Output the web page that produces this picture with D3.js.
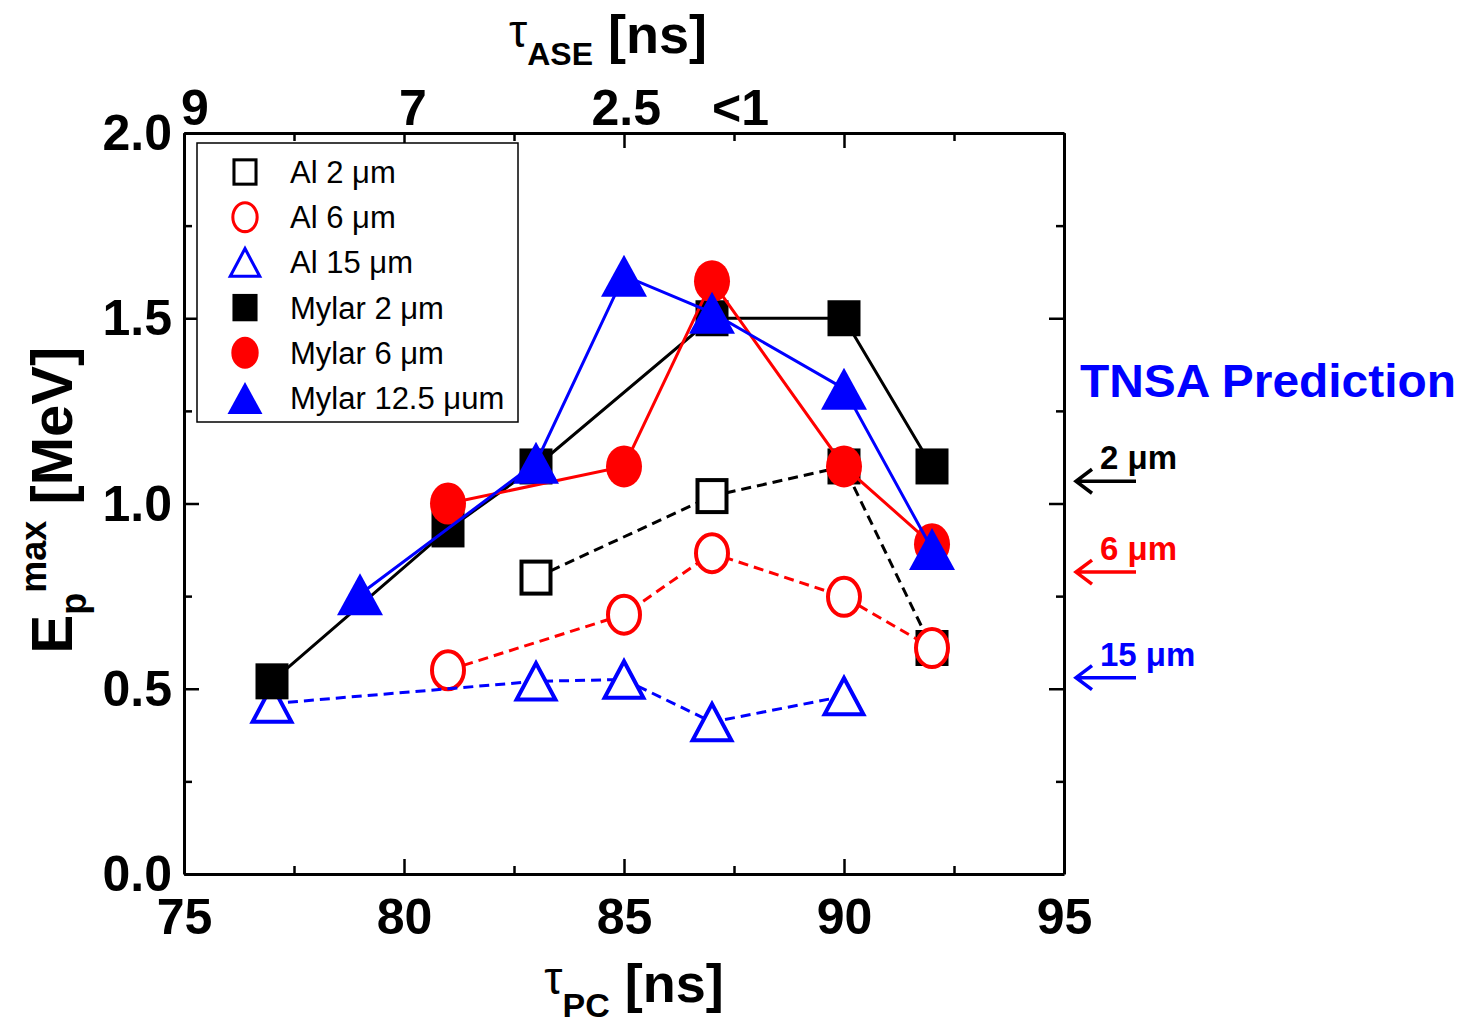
<!DOCTYPE html>
<html>
<head>
<meta charset="utf-8">
<script src="https://cdn.jsdelivr.net/npm/d3@7"></script>
<style>
  body { margin: 0; background: #fff; }
  svg { font-family: "Liberation Sans", Arial, sans-serif; }
</style>
</head>
<body>
<div id="c1"></div>
<script>
// data
var al2x = [83, 87, 90, 92];
var al2y = [0.80, 1.02, 1.10, 0.61];
var al6x = [81, 85, 87, 90, 92];
var al6y = [0.55, 0.70, 0.866, 0.748, 0.61];
var al15x = [77, 83, 85, 87, 90];
var al15y = [0.46, 0.52, 0.525, 0.41, 0.48];
var my2x = [77, 81, 83, 87, 90, 92];
var my2y = [0.52, 0.93, 1.10, 1.50, 1.50, 1.10];
var my6x = [81, 85, 87, 90, 92];
var my6y = [1.00, 1.10, 1.60, 1.10, 0.89];
var my12x = [79, 83, 85, 87, 90, 92];
var my12y = [0.755, 1.11, 1.615, 1.515, 1.31, 0.877];

var legendNames = ["Al 2 \u03bcm", "Al 6 \u03bcm", "Al 15 \u03bcm", "Mylar 2 \u03bcm", "Mylar 6 \u03bcm", "Mylar 12.5 \u03bcum"];
var xTicks = [75, 80, 85, 90, 95];
var xMinor = [77.5, 82.5, 87.5, 92.5];
var yTicks = [0, 0.5, 1.0, 1.5, 2.0];
var yMinor = [0.25, 0.75, 1.25, 1.75];
var topLabelPos = [75.25, 80.2, 85.05, 87.65];
var topLabels = ["9", "7", "2.5", "<1"];
var tnsaNames = ["2 \u03bcm", "6 \u03bcm", "15 \u03bcm"];
var tnsaVals = [1.06, 0.815, 0.53];

var w = 1465, h = 1028;
var x = d3.scaleLinear().domain([75, 95]).range([184, 1064]);
var y = d3.scaleLinear().domain([0, 2]).range([874, 133]);

var svg = d3.select("#c1").append("svg").attr("width", w).attr("height", h);

function pts(xs, ys) { return xs.map(function (v, i) { return {x: v, y: ys[i]}; }); }

// series style: shape, colour, filled, dashed
var series = [
  {d: pts(al2x, al2y), shape: "square", col: "#000", fill: false, dash: true, solidIdx: [2, 3]},
  {d: pts(al6x, al6y), shape: "circle", col: "#f00", fill: false, dash: true},
  {d: pts(al15x, al15y), shape: "triangle", col: "#00f", fill: false, dash: true},
  {d: pts(my2x, my2y), shape: "square", col: "#000", fill: true, dash: false},
  {d: pts(my6x, my6y), shape: "circle", col: "#f00", fill: true, dash: false},
  {d: pts(my12x, my12y), shape: "triangle", col: "#00f", fill: true, dash: false}
];

function marker(g, shape, col, filled, s) {
  // s = scale; open markers keep same outer size
  var sw = 4 * s;
  if (shape == "square") {
    var W = 33 * s, H = 36 * s;
    if (filled) g.append("rect").attr("x", -W / 2).attr("y", -H / 2).attr("width", W).attr("height", H).attr("fill", col);
    else g.append("rect").attr("x", -W / 2 + sw / 2).attr("y", -H / 2 + sw / 2).attr("width", W - sw).attr("height", H - sw)
      .attr("fill", "#fff").attr("stroke", col).attr("stroke-width", sw);
  } else if (shape == "circle") {
    var rx = 18 * s, ry = 21 * s;
    if (filled) g.append("ellipse").attr("rx", rx).attr("ry", ry).attr("fill", col);
    else g.append("ellipse").attr("rx", rx - sw / 2).attr("ry", ry - sw / 2)
      .attr("fill", "#fff").attr("stroke", col).attr("stroke-width", sw);
  } else {
    var tw = 23 * s, th = 21 * s;
    if (filled) g.append("path").attr("d", "M0," + (-th) + "L" + tw + "," + th + "L" + (-tw) + "," + th + "Z").attr("fill", col);
    else {
      var a = tw - sw * 0.9, b = th - sw * 0.7;
      g.append("path").attr("d", "M0," + (-b) + "L" + a + "," + b + "L" + (-a) + "," + b + "Z")
        .attr("fill", "#fff").attr("stroke", col).attr("stroke-width", sw).attr("stroke-linejoin", "miter");
    }
  }
}

var line = d3.line().x(function (d) { return x(d.x); }).y(function (d) { return y(d.y); });

series.forEach(function (s) {
  var g = svg.append("g");
  g.append("path").attr("d", line(s.d)).attr("fill", "none").attr("stroke", s.col)
    .attr("stroke-width", 3).attr("stroke-dasharray", s.dash ? "10,6" : null);
  s.d.forEach(function (p, i) {
    var m = g.append("g").attr("transform", "translate(" + x(p.x) + "," + y(p.y) + ")");
    var filled = s.fill || (s.solidIdx && s.solidIdx.indexOf(i) >= 0 && s.shape == "square");
    marker(m, s.shape, s.col, filled, 1);
  });
});

// axes
function styleAxis(g) {
  g.select(".domain").attr("stroke-width", 3);
  g.selectAll(".tick line").attr("stroke-width", 2.5);
  g.selectAll("text").attr("font-size", 50).attr("font-weight", "bold").attr("font-family", "Liberation Sans, Arial, sans-serif").attr("fill", "#000");
}
function minor(g) { g.select(".domain").remove(); g.selectAll("line").attr("stroke-width", 2.5); }

var gb = svg.append("g").attr("transform", "translate(0,874)")
  .call(d3.axisBottom(x).tickValues(xTicks).tickSizeInner(-15).tickSizeOuter(0).tickPadding(24).tickFormat(d3.format("d")));
styleAxis(gb);
svg.append("g").attr("transform", "translate(0,874)")
  .call(d3.axisBottom(x).tickValues(xMinor).tickSizeInner(-8).tickSizeOuter(0).tickFormat("")).call(minor);

var gt = svg.append("g").attr("transform", "translate(0,133)")
  .call(d3.axisTop(x).tickValues(xTicks).tickSizeInner(-15).tickSizeOuter(0).tickFormat(""));
styleAxis(gt);
svg.append("g").attr("transform", "translate(0,133)")
  .call(d3.axisTop(x).tickValues(xMinor).tickSizeInner(-8).tickSizeOuter(0).tickFormat("")).call(minor);

var gl = svg.append("g").attr("transform", "translate(184,0)")
  .call(d3.axisLeft(y).tickValues(yTicks).tickSizeInner(-15).tickSizeOuter(0).tickPadding(12).tickFormat(d3.format(".1f")));
styleAxis(gl);
gl.selectAll("text").attr("dy", "0.33em");
svg.append("g").attr("transform", "translate(184,0)")
  .call(d3.axisLeft(y).tickValues(yMinor).tickSizeInner(-8).tickSizeOuter(0).tickFormat("")).call(minor);

var gr = svg.append("g").attr("transform", "translate(1064,0)")
  .call(d3.axisRight(y).tickValues(yTicks).tickSizeInner(-15).tickSizeOuter(0).tickFormat(""));
styleAxis(gr);
svg.append("g").attr("transform", "translate(1064,0)")
  .call(d3.axisRight(y).tickValues(yMinor).tickSizeInner(-8).tickSizeOuter(0).tickFormat("")).call(minor);

// top labels (tau_ASE)
svg.selectAll("text.toplab").data(topLabels).enter().append("text")
  .attr("class", "toplab")
  .attr("x", function (d, i) { return x(topLabelPos[i]); })
  .attr("y", 125).attr("text-anchor", "middle")
  .attr("font-size", 50).attr("font-weight", "bold").text(function (d) { return d; });

// axis titles
var tb = svg.append("text").attr("x", 634).attr("y", 1002).attr("text-anchor", "middle");
tb.append("tspan").attr("font-size", 46).attr("dy", -8).text("\u03c4");
tb.append("tspan").attr("font-size", 34).attr("font-weight", "bold").attr("dy", 23).text("PC");
tb.append("tspan").attr("font-size", 54).attr("font-weight", "bold").attr("dy", -15).text(" [ns]");

var tt = svg.append("text").attr("x", 608).attr("y", 53).attr("text-anchor", "middle");
tt.append("tspan").attr("font-size", 46).attr("dy", -6).text("\u03c4");
tt.append("tspan").attr("font-size", 32).attr("font-weight", "bold").attr("dy", 18).text("ASE");
tt.append("tspan").attr("font-size", 54).attr("font-weight", "bold").attr("dy", -12).text(" [ns]");

var ty = svg.append("text").attr("transform", "translate(72,500) rotate(-90)").attr("text-anchor", "middle").attr("font-weight", "bold");
ty.append("tspan").attr("font-size", 58).text("E");
ty.append("tspan").attr("font-size", 36).attr("dy", 14).text("p");
ty.append("tspan").attr("font-size", 36).attr("dy", -40).text("max");
ty.append("tspan").attr("font-size", 58).attr("dy", 26).text(" [MeV]");

// legend
var lg = svg.append("g");
lg.append("rect").attr("x", 197).attr("y", 143).attr("width", 321).attr("height", 279)
  .attr("fill", "#fff").attr("stroke", "#000").attr("stroke-width", 1.5);
series.forEach(function (s, i) {
  var cy = 172 + i * 45.2;
  var m = lg.append("g").attr("transform", "translate(245," + cy + ")");
  marker(m, s.shape, s.col, s.fill, 0.76);
  lg.append("text").attr("x", 290).attr("y", cy + 11).attr("font-size", 31).text(legendNames[i]);
});

// TNSA prediction arrows
var tnsaCols = ["#000", "#f00", "#00f"];
svg.append("text").attr("x", 1080).attr("y", 397).attr("font-size", 46).attr("font-weight", "bold")
  .attr("fill", "#00f").attr("textLength", 376).attr("lengthAdjust", "spacingAndGlyphs").text("TNSA Prediction");
tnsaVals.forEach(function (v, i) {
  var yy = y(v), c = tnsaCols[i];
  svg.append("path").attr("d", "M1136," + yy + "H1076 M1092," + (yy - 12) + "L1076," + yy + "L1092," + (yy + 12))
    .attr("fill", "none").attr("stroke", c).attr("stroke-width", 3.5);
  svg.append("text").attr("x", 1100).attr("y", yy - 12).attr("font-size", 33).attr("font-weight", "bold")
    .attr("fill", c).text(tnsaNames[i]);
});
</script>
</body>
</html>
